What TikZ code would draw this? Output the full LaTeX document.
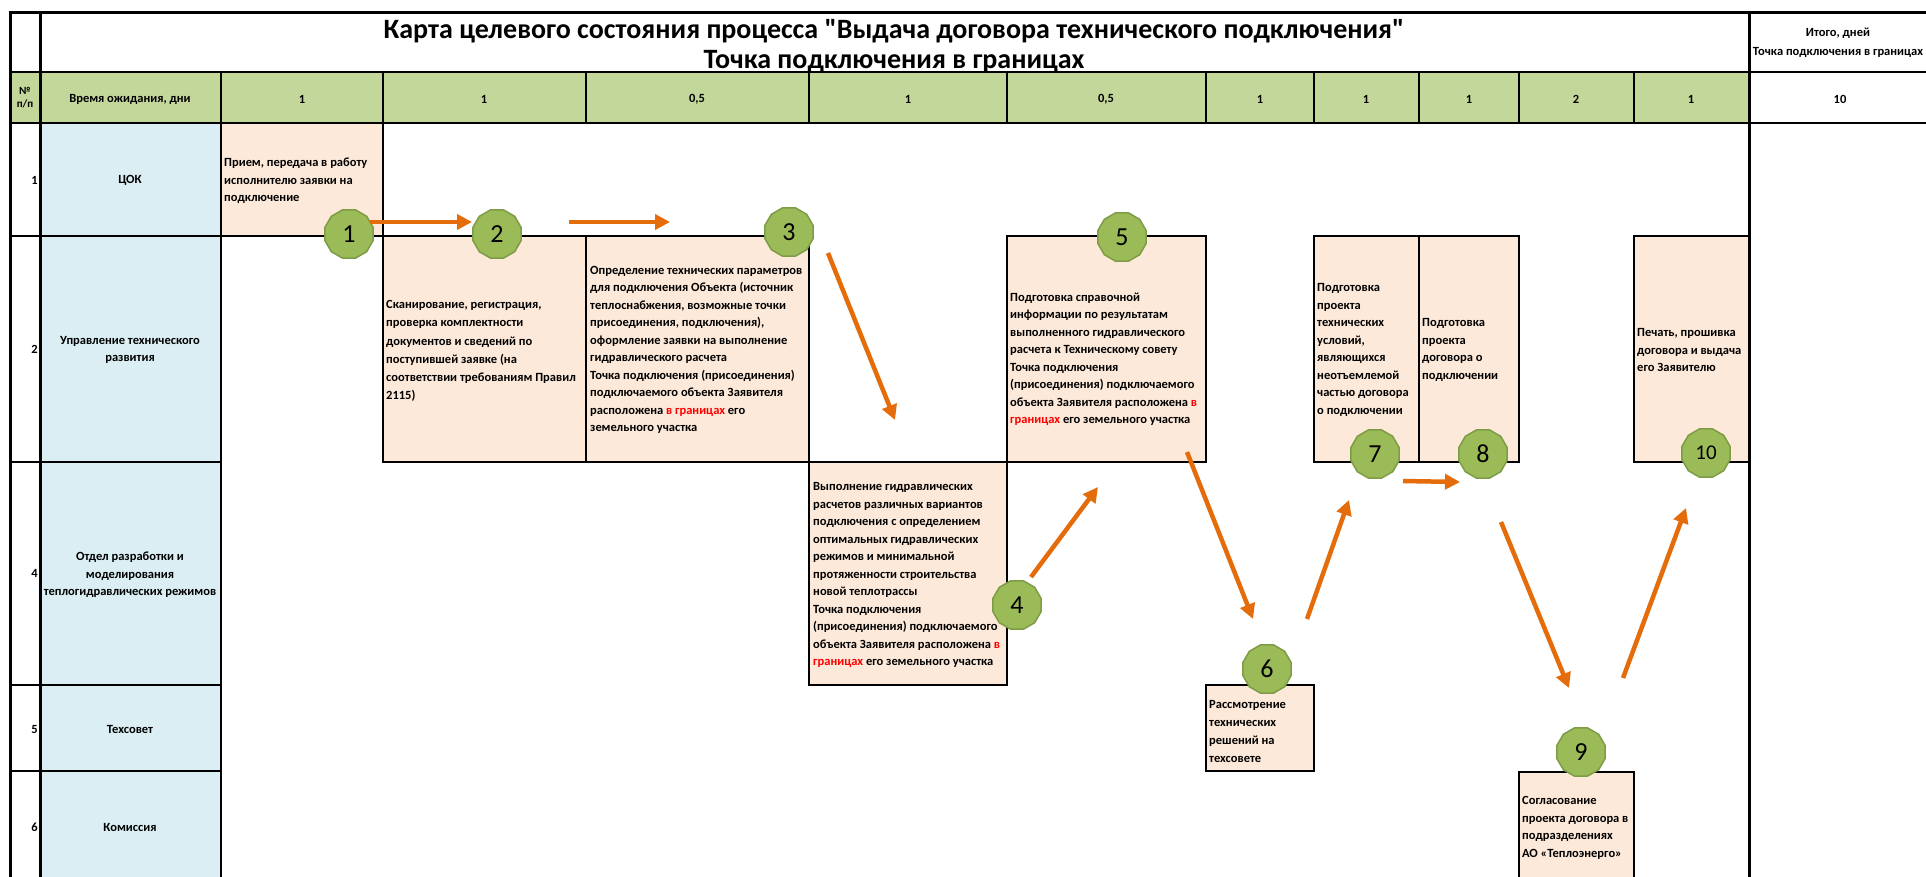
\documentclass[tikz,border=0pt]{standalone}
\usepackage{fontspec}
\setmainfont{Carlito}
\newfontfamily\titlefont{Carlito}
\usetikzlibrary{shapes.geometric,arrows.meta,fit}
\definecolor{hgreen}{HTML}{C4D79B}
\definecolor{lblue}{HTML}{DAEEF3}
\definecolor{peach}{HTML}{FDE9D9}
\definecolor{cgreen}{HTML}{9BBB59}
\definecolor{cgreenb}{HTML}{7E9C45}
\definecolor{arrorange}{HTML}{E46C0A}
\newcommand{\redtxt}[1]{\textcolor{red}{#1}}
\tikzset{
  gridthick/.style={line width=3pt, black},
  gridthin/.style={line width=1.6pt, black},
  stepbox/.style={draw=black, line width=1.6pt, fill=peach, inner sep=0pt, fit={#1}},
  boxtext/.style={font=\bfseries\fontsize{12.5}{17.5}\selectfont, align=left, anchor=west, inner sep=0pt},
  lanetext/.style={font=\bfseries\fontsize{12.5}{17.5}\selectfont, align=center, inner sep=0pt},
  rownum/.style={font=\bfseries\fontsize{12.5}{17.5}\selectfont, anchor=east, inner sep=0pt},
  hdrtext/.style={font=\bfseries\fontsize{12.5}{17.5}\selectfont, align=center, inner sep=0pt},
  titletext/.style={font=\titlefont\bfseries\fontsize{28}{30}\selectfont, inner sep=0pt},
  stepnum/.style={regular polygon, regular polygon sides=12, fill=cgreen, draw=cgreenb, line width=1.5pt, minimum size=50pt, inner sep=0pt, font=\fontsize{26}{26}\selectfont},
  flow/.style={draw=arrorange, line width=4.5pt, -{Triangle[length=15pt,width=15pt]}}
}
\begin{document}
\begin{tikzpicture}[x=1pt,y=-1pt]
\useasboundingbox (0,0) rectangle (1926,876);
\clip (0,0) rectangle (1926,876);
\fill[white] (0,0) rectangle (1926,876);
% fills
\fill[hgreen] (10,72) rectangle (1749,123);
\fill[lblue] (40,123) rectangle (221,900);
% grid
\draw[gridthin] (10,72) -- (1930,72);
\draw[gridthin] (10,123) -- (1930,123);
\foreach \xx in {221,383,586,809,1007,1206,1314,1419,1519,1634}
  \draw[gridthin] (\xx,72) -- (\xx,123);
\draw[gridthin] (221,123) -- (221,900);
\foreach \yy in {236,462,685,771}
  \draw[gridthin] (10,\yy) -- (221,\yy);
\draw[gridthick] (8.5,12) -- (1930,12);
\draw[gridthick] (10,12) -- (10,900);
\draw[gridthick] (40,12) -- (40,900);
\draw[gridthick] (1749,12) -- (1749,900);

% header texts
\node[titletext] (title1) at (894,31) {Карта целевого состояния процесса "Выдача договора технического подключения"};
\node[titletext] (title2) at (894,62) {Точка подключения в границах};
\node[hdrtext] (itogo) at (1838,33) {Итого, дней};
\node[hdrtext] (itogo2) at (1838,52) {Точка подключения в границах};
\node[hdrtext, font=\bfseries\fontsize{11}{13}\selectfont] (nn) at (25,98) {№\\п/п};
\node[hdrtext] (wait) at (130,99) {Время ожидания, дни};
\node[hdrtext] (d1) at (302,99) {1};
\node[hdrtext] (d2) at (484,99) {1};
\node[hdrtext] (d3) at (697,99) {0,5};
\node[hdrtext] (d4) at (908,99) {1};
\node[hdrtext] (d5) at (1106,99) {0,5};
\node[hdrtext] (d6) at (1260,99) {1};
\node[hdrtext] (d7) at (1366,99) {1};
\node[hdrtext] (d8) at (1469,99) {1};
\node[hdrtext] (d9) at (1576,99) {2};
\node[hdrtext] (d10) at (1691,99) {1};
\node[hdrtext] (dtot) at (1840,99) {10};

% lanes
\node[rownum] (r1) at (38,180) {1};
\node[rownum] (r2) at (38,349) {2};
\node[rownum] (r4) at (38,573) {4};
\node[rownum] (r5) at (38,729) {5};
\node[rownum] (r6) at (38,827) {6};
\node[lanetext] (l1) at (130,180) {ЦОК};
\node[lanetext] (l2) at (130,350) {Управление технического\\развития};
\node[lanetext] (l4) at (130,575) {Отдел разработки и\\моделирования\\теплогидравлических режимов};
\node[lanetext] (l5) at (130,729) {Техсовет};
\node[lanetext] (l6) at (130,827) {Комиссия};

% step boxes
\node[stepbox={(221,123)(383,236)}] (b1) {};
\node[stepbox={(383,236)(586,462)}] (b2) {};
\node[stepbox={(586,236)(809,462)}] (b3) {};
\node[stepbox={(809,462)(1007,685)}] (b4) {};
\node[stepbox={(1007,236)(1206,462)}] (b5) {};
\node[stepbox={(1206,685)(1314,771)}] (b6) {};
\node[stepbox={(1314,236)(1419,462)}] (b7) {};
\node[stepbox={(1419,236)(1519,462)}] (b8) {};
\node[stepbox={(1519,772)(1634,910)}] (b9) {};
\node[stepbox={(1634,236)(1749,462)}] (b10) {};
\draw[gridthick] (1749,123) -- (1749,900);

% box texts
\node[boxtext] (t1) at (224,181) {Прием, передача в работу\\исполнителю заявки на\\подключение};
\node[boxtext, font=\bfseries\fontsize{12.5}{18.2}\selectfont] (t2) at (386,351) {Сканирование, регистрация,\\проверка комплектности\\документов и сведений по\\поступившей заявке (на\\соответствии требованиям Правил\\2115)};
\node[boxtext] (t3) at (590,350) {Определение технических параметров\\для подключения Объекта (источник\\теплоснабжения, возможные точки\\присоединения, подключения),\\оформление заявки на выполнение\\гидравлического расчета\\Точка подключения (присоединения)\\подключаемого объекта Заявителя\\расположена \redtxt{в границах} его\\земельного участка};
\node[boxtext] (t4) at (813,575) {Выполнение гидравлических\\расчетов различных вариантов\\подключения с определением\\оптимальных гидравлических\\режимов и минимальной\\протяженности строительства\\новой теплотрассы\\Точка подключения\\(присоединения) подключаемого\\объекта Заявителя расположена \redtxt{в}\\\redtxt{границах} его земельного участка};
\node[boxtext] (t5) at (1010,359) {Подготовка справочной\\информации по результатам\\выполненного гидравлического\\расчета к Техническому совету\\Точка подключения\\(присоединения) подключаемого\\объекта Заявителя расположена \redtxt{в}\\\redtxt{границах} его земельного участка};
\node[boxtext, font=\bfseries\fontsize{12.5}{18}\selectfont] (t6) at (1209,731) {Рассмотрение\\технических\\решений на\\техсовете};
\node[boxtext] (t7) at (1317,350) {Подготовка\\проекта\\технических\\условий,\\являющихся\\неотъемлемой\\частью договора\\о подключении};
\node[boxtext] (t8) at (1422,350) {Подготовка\\проекта\\договора о\\подключении};
\node[boxtext] (t9) at (1522,828) {Согласование\\проекта договора в\\подразделениях\\АО «Теплоэнерго»};
\node[boxtext] (t10) at (1637,350) {Печать, прошивка\\договора и выдача\\его Заявителю};

% step numbers
\node[stepnum] (c1) at (349,234) {1};
\node[stepnum] (c2) at (497,234) {2};
\node[stepnum] (c3) at (789,232) {3};
\node[stepnum] (c4) at (1017,605) {4};
\node[stepnum] (c5) at (1122,237) {5};
\node[stepnum] (c6) at (1267,669) {6};
\node[stepnum] (c7) at (1375,454) {7};
\node[stepnum] (c8) at (1483,454) {8};
\node[stepnum] (c9) at (1581,752) {9};
\node[stepnum, font=\fontsize{21}{21}\selectfont] (c10) at (1706,453) {10};

% arrows
\coordinate (a12s) at (370,222); \coordinate (a12e) at (472,222);
\coordinate (a23s) at (569,222); \coordinate (a23e) at (670,222);
\coordinate (a34s) at (828,253); \coordinate (a34e) at (895,420);
\coordinate (a45s) at (1031,577); \coordinate (a45e) at (1098,487);
\coordinate (a56s) at (1187,452); \coordinate (a56e) at (1253,619);
\coordinate (a67s) at (1307,619); \coordinate (a67e) at (1349,500);
\coordinate (a78s) at (1403,481); \coordinate (a78e) at (1460,482);
\coordinate (a89s) at (1501,522); \coordinate (a89e) at (1569,688);
\coordinate (a910s) at (1623,678); \coordinate (a910e) at (1686,508);
\draw[flow] (a12s) -- (a12e);
\draw[flow] (a23s) -- (a23e);
\draw[flow] (a34s) -- (a34e);
\draw[flow] (a45s) -- (a45e);
\draw[flow] (a56s) -- (a56e);
\draw[flow] (a67s) -- (a67e);
\draw[flow] (a78s) -- (a78e);
\draw[flow] (a89s) -- (a89e);
\draw[flow] (a910s) -- (a910e);
\end{tikzpicture}
\end{document}
